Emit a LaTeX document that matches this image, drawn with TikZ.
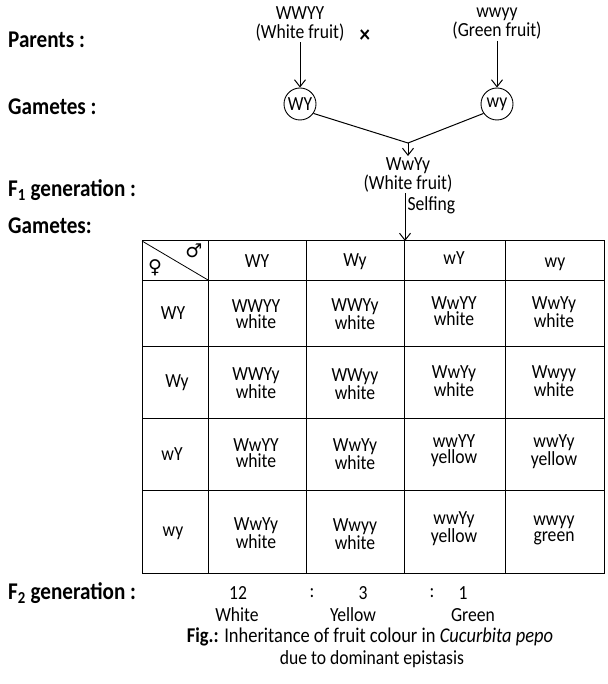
\documentclass[tikz,border=0pt]{standalone}
\usepackage{fontspec}
\setmainfont{Carlito}[FakeStretch=0.88]
\newfontfamily\symfont{DejaVu Sans}
\usetikzlibrary{arrows.meta, positioning}

\begin{document}
\begin{tikzpicture}[
    x=1pt, y=-1pt,
    every node/.style = {font=\fontsize{20}{16}\selectfont, inner sep=1pt},
    lbl/.style = {anchor=west, font=\fontsize{24}{26}\selectfont\bfseries},
    parent/.style = {align=center, font=\fontsize{20}{19}\selectfont},
    gam/.style = {draw, circle, minimum size=32pt, inner sep=0pt, line width=0.9pt},
    cell/.style = {align=center},
    arr/.style = {-{Straight Barb[length=7pt, width=11pt]}, line width=1pt},
    grid/.style = {line width=1pt},
  ]
  \useasboundingbox (0,0) rectangle (607,684);

  % row labels on the left
  \node[lbl] (parents) at (7,40) {Parents :};
  \node[lbl] (gametes) at (7,107) {Gametes :};
  \node[lbl] (fone) at (7,190) {F\textsubscript{1} generation :};
  \node[lbl] (gametestab) at (7,226) {Gametes:};
  \node[lbl] (ftwo) at (7,593) {F\textsubscript{2} generation :};

  % parents and their gametes
  \node[parent] (pwhite) at (300,24) {WWYY\\(White fruit)};
  \node[parent] (pgreen) at (497,24) {wwyy\\(Green fruit)};
  \node[font=\fontsize{24}{24}\selectfont\bfseries] (cross) at (365,36) {×};
  \node[gam] (gwy) at (300,104) {WY};
  \node[gam] (gwwy) at (497,104) {wy};
  \draw[arr] (pwhite) -- (gwy);
  \draw[arr] (pgreen) -- (gwwy);

  % fusion to F1
  \coordinate (join) at (408,143);
  \draw[line width=1pt] (gwy.-35) -- (join) -- (gwwy.-145);
  \node[parent, below=13pt of join] (hybrid) {WwYy\\(White fruit)};
  \draw[arr] (join) -- (hybrid);
  \coordinate (tabtop) at (405,241);
  \draw[arr] (hybrid.south -| tabtop) -- (tabtop)
    node[pos=0.25, right=1pt] (selfing) {Selfing};

  % checkerboard
  \draw[grid] (142,241) rectangle (604,573);
  \draw[grid] (142,280) -- (604,280);
  \draw[grid] (142,346) -- (604,346);
  \draw[grid] (142,418) -- (604,418);
  \draw[grid] (142,490) -- (604,490);
  \draw[grid] (208,241) -- (208,573);
  \draw[grid] (306,241) -- (306,573);
  \draw[grid] (404,241) -- (404,573);
  \draw[grid] (505,241) -- (505,573);
  \draw[line width=0.8pt] (142,241) -- (208,280);
  \node[font=\symfont\fontsize{19}{19}\selectfont] (female) at (155,268) {♀};
  \node[font=\symfont\fontsize{19}{19}\selectfont] (male) at (194,251) {♂};

  % male gametes
  \node (mWY) at (257,261) {WY};
  \node (mWy) at (355,262) {Wy};
  \node (mwY) at (454,258) {wY};
  \node (mwy) at (555,264) {wy};
  % female gametes
  \node (fWY) at (173,313) {WY};
  \node (fWy) at (177,383) {Wy};
  \node (fwY) at (172,454) {wY};
  \node (fwy) at (173,533) {wy};

  % offspring
  \node[cell] (c11) at (256,314) {WWYY\\white};
  \node[cell] (c12) at (355,314) {WWYy\\white};
  \node[cell] (c13) at (454,311) {WwYY\\white};
  \node[cell] (c14) at (554,312) {WwYy\\white};
  \node[cell] (c21) at (256,383) {WWYy\\white};
  \node[cell] (c22) at (355,384) {WWyy\\white};
  \node[cell] (c23) at (454,381) {WwYy\\white};
  \node[cell] (c24) at (554,381) {Wwyy\\white};
  \node[cell] (c31) at (256,453) {WwYY\\white};
  \node[cell] (c32) at (355,454) {WwYy\\white};
  \node[cell] (c33) at (454,451) {wwYY\\yellow};
  \node[cell] (c34) at (554,452) {wwYy\\yellow};
  \node[cell] (c41) at (256,533) {WwYy\\white};
  \node[cell] (c42) at (355,534) {Wwyy\\white};
  \node[cell] (c43) at (454,529) {wwYy\\yellow};
  \node[cell] (c44) at (554,530) {wwyy\\green};

  % ratio
  \node (rwhite) at (238,593) {12};
  \node (colon1) at (312,593) {:};
  \node (ryellow) at (363,593) {3};
  \node (colon2) at (432,593) {:};
  \node (rgreen) at (463,593) {1};
  \node (twhite) at (237,615) {White};
  \node (tyellow) at (353,615) {Yellow};
  \node (tgreen) at (473,615) {Green};

  % caption
  \node[font=\fontsize{21}{16}\selectfont] (caption) at (370,637) {\textbf{Fig.:} Inheritance of fruit colour in \textit{Cucurbita pepo}};
  \node (caption2) at (372,659) {due to dominant epistasis};
\end{tikzpicture}
\end{document}
